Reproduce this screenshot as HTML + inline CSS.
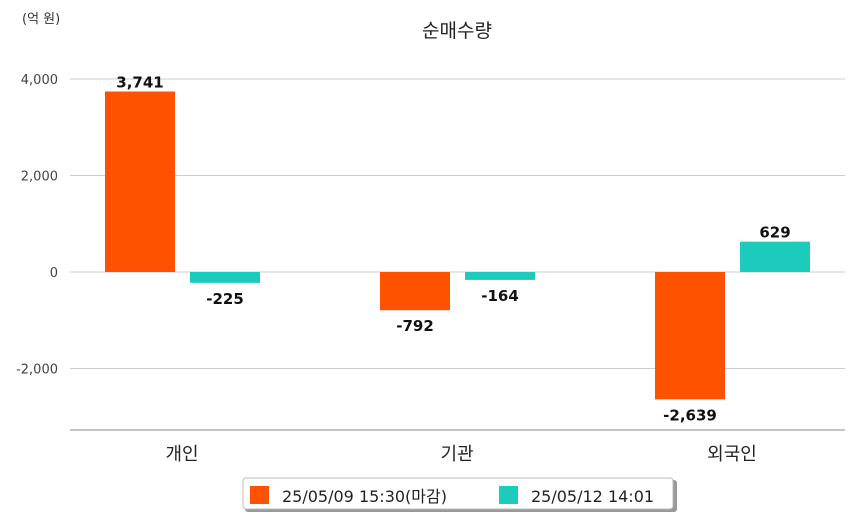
<!DOCTYPE html>
<html><head><meta charset="utf-8"><style>
body{margin:0;background:#fff;font-family:"DejaVu Sans","Noto Sans CJK KR",sans-serif;}
svg text{font-family:"DejaVu Sans","Noto Sans CJK KR",sans-serif;}
</style></head><body>
<svg id="c" width="854" height="520">
<text x="22" y="23" font-size="13" fill="#333">(억 원)</text>
<text x="457" y="37" font-size="19" text-anchor="middle" fill="#222">순매수량</text>
<g id="grid"></g><g id="bars"></g>
<g>
<rect x="245" y="480" width="432" height="32" rx="3" fill="#999" />
<rect x="243" y="478" width="430" height="31" rx="3" fill="#fff" stroke="#bbb"/>
<rect x="250" y="486" width="19" height="18" fill="#ff5200"/>
<text x="282" y="502" font-size="16" fill="#222">25/05/09 15:30(마감)</text>
<rect x="499" y="486" width="19" height="18" fill="#1ccbbc"/>
<text x="531" y="502" font-size="16" fill="#222">25/05/12 14:01</text>
</g>
</svg>
<script>
const categories=["개인","기관","외국인"];
const series1=[3741,-792,-2639];
const series2=[-225,-164,629];
const ticks=[4000,2000,0,-2000];
const tickLabels=["4,000","2,000","0","-2,000"];
const ns="http://www.w3.org/2000/svg";
const y=v=>272-v*(96.5/2000);
const cx=i=>182+i*275;
function mk(t,a,p,txt){const e=document.createElementNS(ns,t);for(const k in a)e.setAttribute(k,a[k]);if(txt!==undefined)e.textContent=txt;p.appendChild(e);return e;}
const g=document.getElementById('grid'),b=document.getElementById('bars');
ticks.forEach((t,i)=>{
 const l=mk('line',{x1:70,x2:845,y1:y(t),y2:y(t),stroke:'#ccc'},g);
 
 
 const tx=mk('text',{x:58,y:y(t)+5,'font-size':13,'text-anchor':'end',fill:'#444'},g,tickLabels[i]);
 
 
});
const ax=mk('line',{x1:70,x2:845,y1:430,y2:430,stroke:'#888'},g);


const fmt=v=>(v<0?'-':'')+Math.abs(v).toLocaleString('en-US');
categories.forEach((c,i)=>{
 const xl=mk('text',{x:cx(i),y:460,'font-size':18,'text-anchor':'middle',fill:'#222'},g,c);
 
 
 [[series1,'#ff5200',-77],[series2,'#1ccbbc',8]].forEach(([s,col,off],k)=>{
  const v=s[i],top=Math.min(y(v),y(0)),h=Math.abs(y(v)-y(0));
  const r=mk('rect',{x:cx(i)+off,y:top,width:70,height:h,fill:col},b);
  
  
  const ly=v>=0?y(v)-4:y(v)+21;
  const t=mk('text',{x:cx(i)+off+35,y:ly,'font-size':15,'font-weight':'bold','text-anchor':'middle',fill:'#111'},b,fmt(v));
  
  
 });
});
</script>
</body></html>
